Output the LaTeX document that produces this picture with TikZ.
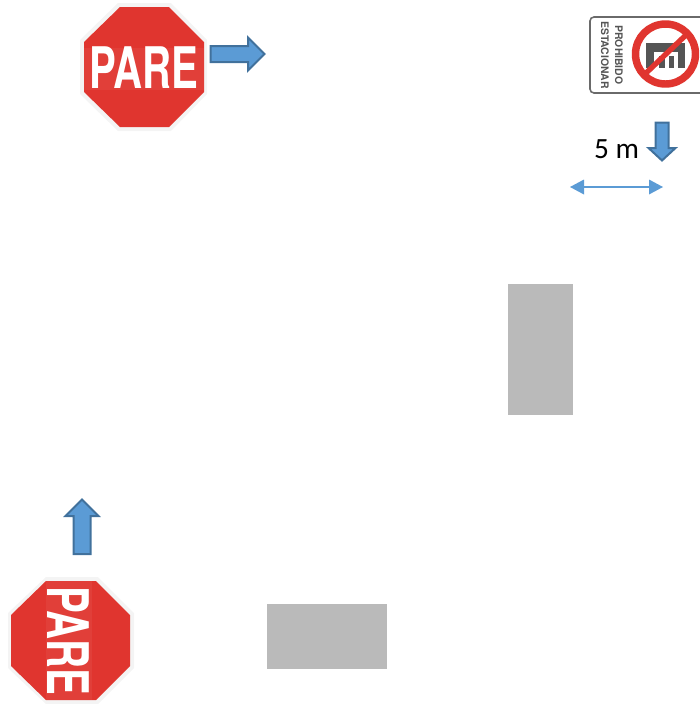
\documentclass[tikz,border=0pt]{standalone}
\usepackage{fontspec}
\usepackage{graphicx}
\setmainfont{TeX Gyre Heros}
\newfontfamily\labelfont{Carlito}
\definecolor{signred}{HTML}{E0352F}
\definecolor{halo}{HTML}{F4F4F4}
\definecolor{arrowfill}{HTML}{5B9BD5}
\definecolor{arrowline}{HTML}{41719C}
\definecolor{blockgray}{HTML}{BABABA}
\definecolor{signgray}{HTML}{6A6A6A}
\definecolor{glyphgray}{HTML}{555555}
\tikzset{
  blockarrow/.style={fill=arrowfill,draw=arrowline,line width=1.5pt,line join=miter},
  block/.style={fill=blockgray,draw=none},
  octahalo/.style={fill=halo,draw=none},
  octared/.style={fill=signred,draw=none},
  paretext/.style={text=white,inner sep=0pt,font=\bfseries\fontsize{43}{43}\selectfont},
  signtext/.style={text=glyphgray,inner sep=0pt,font=\bfseries\fontsize{7.8}{8}\selectfont,rotate=-90},
  thinblue/.style={draw=arrowfill,line width=1.6pt}
}
\begin{document}
\begin{tikzpicture}[x=0.75pt,y=-0.75pt]
\useasboundingbox (0,0) rectangle (700,704);
% gray blocks
\fill[block] (508,284) rectangle (573,415);
\fill[block] (267,604) rectangle (387,669);
% top stop sign
\fill[octahalo] (118,3) -- (171,3) -- (207,40) -- (207,94) -- (171,131) -- (118,131) -- (80,94) -- (80,40) -- cycle;
\fill[octared] (120,7) -- (169,7) -- (204,42) -- (204,92) -- (169,127) -- (120,127) -- (84,92) -- (84,42) -- cycle;
\fill[white,opacity=0.05] (84,48) rectangle (204,90);
\node[paretext] (pareTop) at (144,68) {\scalebox{0.7}[1]{PARE}};
% bottom stop sign
\fill[octahalo] (46,577) -- (98,577) -- (134,613) -- (134,668) -- (98,704) -- (46,704) -- (8,668) -- (8,613) -- cycle;
\fill[octared] (46,581) -- (96,581) -- (130,615) -- (130,666) -- (96,700) -- (46,700) -- (11,666) -- (11,615) -- cycle;
\fill[white,opacity=0.05] (46,581) rectangle (92,700);
\node[paretext,rotate=-90] (pareBottom) at (68.5,640.5) {\scalebox{0.7}[1]{PARE}};
% block arrows
\draw[blockarrow] (210.5,46) -- (248,46) -- (248,37.5) -- (264.5,54) -- (248,70.5) -- (248,62) -- (210.5,62) -- cycle;
\draw[blockarrow] (655.5,122.5) -- (668.5,122.5) -- (668.5,148) -- (675.5,148) -- (662,160.5) -- (648.5,148) -- (655.5,148) -- cycle;
\draw[blockarrow] (73.5,554) -- (90.5,554) -- (90.5,516) -- (98.5,516) -- (82,499.5) -- (65.5,516) -- (73.5,516) -- cycle;
% no-parking sign
\draw[draw=signgray,line width=1.2pt,fill=white,rounded corners=3pt] (590,17) rectangle (720,93);
\node[signtext] (prohibido) at (619,55) {PROHIBIDO};
\node[signtext] (estacionar) at (605,55) {ESTACIONAR};
\fill[glyphgray] (646,43) rectangle (685,68);
\fill[white] (654,52) rectangle (678,68);
\fill[glyphgray] (659,56) rectangle (664.5,68);
\fill[glyphgray] (669,56) rectangle (674,68);
\draw[draw=signred,line width=5.6pt] (665.5,54) circle (30);
\draw[draw=signred,line width=4pt] (645,74) -- (687,34);
% dimension
\node[inner sep=0pt,font=\labelfont\fontsize{22}{22}\selectfont] (dist) at (616.5,149.5) {5 m};
\coordinate (dimL) at (570,187);
\coordinate (dimR) at (663,187);
\draw[thinblue] (580,187) -- (653,187);
\fill[arrowfill] (dimL) -- (584,179.5) -- (584,194.5) -- cycle;
\fill[arrowfill] (dimR) -- (649,179.5) -- (649,194.5) -- cycle;
\end{tikzpicture}
\end{document}
